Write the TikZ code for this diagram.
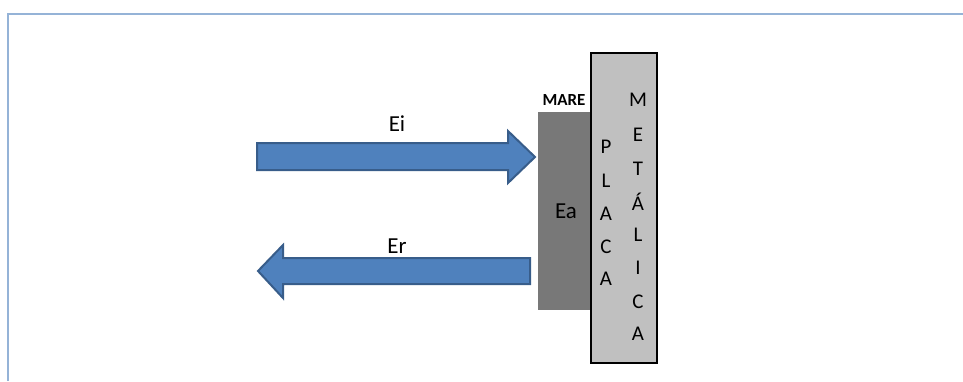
\documentclass[tikz,border=0pt]{standalone}
\usepackage{fontspec}
\setmainfont{Carlito}
\begin{document}
\begin{tikzpicture}[x=1bp,y=-1bp,
  frame/.style={draw=framec,line width=2.2bp},
  blockarrow/.style={fill=arrowfill,draw=arrowline,line width=2bp,line join=miter},
  lbl/.style={font=\fontsize{23}{26}\selectfont,inner sep=0pt,anchor=center},
  letter/.style={font=\fontsize{21}{24}\selectfont,inner sep=0pt,anchor=center}]
\definecolor{framec}{RGB}{149,179,215}
\definecolor{arrowfill}{RGB}{79,129,189}
\definecolor{arrowline}{RGB}{56,93,138}
\definecolor{seagray}{RGB}{120,120,120}
\definecolor{plategray}{RGB}{192,192,192}
\useasboundingbox (0,0) rectangle (963,381);
% frame
\draw[frame] (8,381) -- (8,14) -- (963,14);
% incident arrow
\draw[blockarrow] (257,143) -- (508,143) -- (508,131) -- (535,157) -- (508,183) -- (508,170) -- (257,170) -- cycle;
% reflected arrow
\draw[blockarrow] (530,258) -- (283,258) -- (283,245) -- (258,271) -- (283,298) -- (283,284) -- (530,284) -- cycle;
\node[lbl] (ei) at (397,124) {Ei};
\node[lbl] (er) at (397,246) {Er};
% sea
\fill[seagray] (538,112) rectangle (592,310);
\node[lbl] (ea) at (566,211) {Ea};
\node[font=\fontsize{17}{19}\selectfont\bfseries,inner sep=0pt] (mare) at (564,100) {MARE};
% plate
\draw[fill=plategray,line width=1.5bp] (591,53) rectangle (657,363);
\foreach \c/\y [count=\i] in {P/147,L/181,A/214,C/247,A/279}
  \node[letter] (p\i) at (606,\y) {\c};
\foreach \c/\y [count=\i] in {M/100,E/135,T/169,Á/202,L/235,I/268,C/302,A/334}
  \node[letter] (m\i) at (638,\y) {\c};
\end{tikzpicture}
\end{document}
